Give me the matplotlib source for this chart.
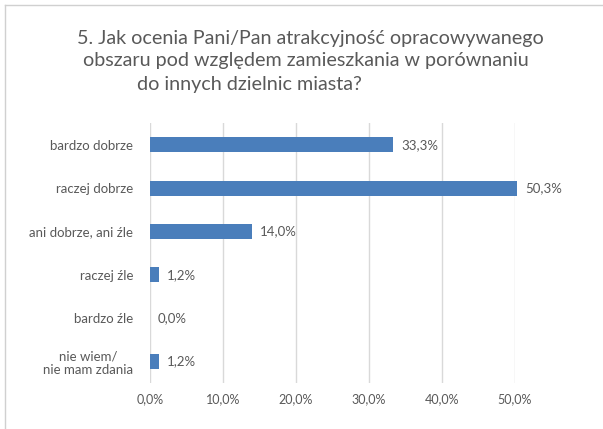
#!/usr/bin/env python3
"""Horizontal bar chart: attractiveness of the area for living (survey Q5)."""
import matplotlib
matplotlib.use("Agg")
import matplotlib.pyplot as plt
from matplotlib.lines import Line2D
from matplotlib.ticker import FuncFormatter

categories = ["bardzo dobrze", "raczej dobrze", "ani dobrze, ani źle",
              "raczej źle", "bardzo źle", "nie wiem/\nnie mam zdania"]
values = [33.3, 50.3, 14.0, 1.2, 0.0, 1.2]
xticks = [0, 10, 20, 30, 40, 50]
title_lines = ["5. Jak ocenia Pani/Pan atrakcyjność opracowywanego",
               "obszaru pod względem zamieszkania w porównaniu",
               "do innych dzielnic miasta?"]

plt.rcParams["font.family"] = ["Lato", "DejaVu Sans"]
text_c = "#595959"


def pct(v):
    return f"{v:.1f}%".replace(".", ",")


fig = plt.figure(figsize=(6.03, 4.29), dpi=100)
ax = fig.add_axes([0.2488, 0.107, 0.6053, 0.606])

ypos = list(range(len(categories)))
ax.barh(ypos, values, height=0.35, color="#4a7ebb", zorder=3, clip_on=False)
for y, v in zip(ypos, values):
    ax.text(v + 1.1, y, pct(v), va="center", ha="left", fontsize=9.5,
            color=text_c)

ax.set_ylim(len(categories) - 0.5, -0.5)
ax.set_xlim(0, 50)
ax.set_xticks(xticks)
ax.xaxis.set_major_formatter(FuncFormatter(lambda v, _: pct(v)))
ax.set_yticks(ypos)
ax.set_yticklabels(categories, ha="right", multialignment="center")
ax.tick_params(axis="both", length=0, labelcolor=text_c)
ax.tick_params(axis="x", pad=7, labelsize=9)
ax.tick_params(axis="y", pad=12, labelsize=9.5)
ax.grid(axis="x", color="#d9d9d9", lw=1, zorder=0)
for s in ax.spines.values():
    s.set_visible(False)

# title lines are placed individually (last line sits left of centre)
for txt, xc, yc in zip(title_lines, [0.514, 0.508, 0.413],
                       [0.911, 0.858, 0.804]):
    fig.text(xc, yc, txt, ha="center", va="center", fontsize=14.2,
             color=text_c)

# light frame along top and left edge
fig.add_artist(Line2D([0.008, 1.0], [0.988, 0.988], color="#d0d0d0", lw=1))
fig.add_artist(Line2D([0.008, 0.008], [0.0, 0.988], color="#d0d0d0", lw=1))

fig.savefig("out.png", dpi=100)
